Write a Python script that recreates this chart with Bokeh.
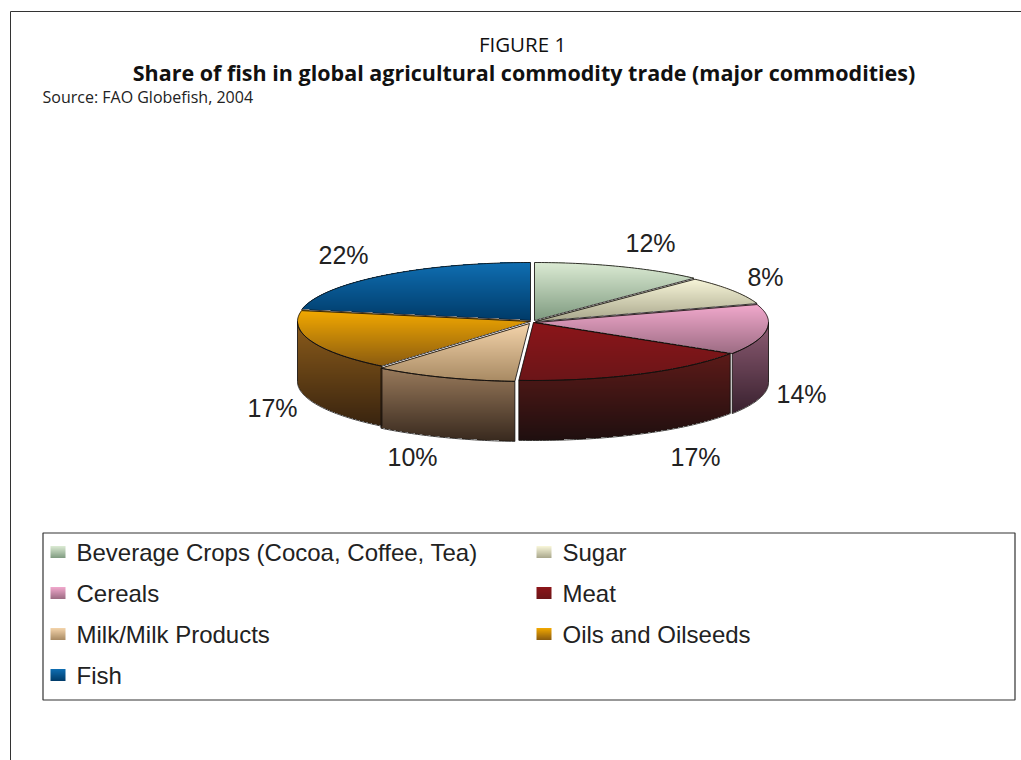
import math
from bokeh.core.properties import value
from bokeh.embed import file_html
from bokeh.models import ColumnDataSource, Range1d
from bokeh.plotting import figure
from bokeh.resources import INLINE

# Commodity shares, in percent, clockwise from twelve o'clock
categories = ["Beverage Crops (Cocoa, Coffee, Tea)", "Sugar", "Cereals", "Meat",
              "Milk/Milk Products", "Oils and Oilseeds", "Fish"]
shares = [12, 8, 14, 17, 10, 17, 22]

title_top = "FIGURE 1"
title_main = "Share of fish in global agricultural commodity trade (major commodities)"
source_note = "Source: FAO Globefish, 2004"

# Pie layout, in page pixels
CX, CY, RX, RY, DEPTH = 532, 321, 233, 58, 60
offsets = [(2, -1), (3, 0), (3, 1), (1, 1), (-3, 2), (-2, 0), (-2, -1)]
label_pos = [(650, 242), (765, 276), (801, 393), (695, 456), (412, 456), (272, 407), (343, 254)]

# Gradient stops per slice (top-face start and end, side-face start and end)
top_colors = [("#dcebd4", "#7f9b80"), ("#f9f7da", "#a9a78c"), ("#f2a9cd", "#9b6b82"),
              ("#8c1519", "#6b1518"), ("#f4d4ab", "#a88a63"), ("#f3a900", "#8a5b10"),
              ("#0f6eb2", "#003b69")]
side_colors = [None, None, ("#8e5d74", "#38202e"), ("#5c1a18", "#1f0f0f"),
               ("#9a7b5c", "#38291e"), ("#8c5c1a", "#38230f"), None]


def rgb(h):
    return tuple(int(h[i:i + 2], 16) for i in (1, 3, 5))


def mix(a, b, t):
    t = max(0.0, min(1.0, t))
    ca, cb = rgb(a), rgb(b)
    return "#%02x%02x%02x" % tuple(round(x + (y - x) * t) for x, y in zip(ca, cb))


strips = dict(left=[], right=[], top=[], bottom=[], color=[])


def fill_gradient(poly, c0, c1):
    """Paint a polygon as one-pixel horizontal bands running from c0 down to c1."""
    ys = [q[1] for q in poly]
    y0, y1 = math.floor(min(ys)), math.ceil(max(ys))
    for y in range(y0, y1):
        yc = y + 0.5
        xs = []
        for (ax, ay), (bx, by) in zip(poly, poly[1:] + poly[:1]):
            if (ay <= yc) != (by <= yc):
                xs.append(ax + (yc - ay) / (by - ay) * (bx - ax))
        xs.sort()
        col = mix(c0, c1, (yc - y0) / max(1, y1 - y0))
        for a, b in zip(xs[::2], xs[1::2]):
            strips["left"].append(a)
            strips["right"].append(b)
            # The SVG canvas sits half a pixel off the grid; the bands are
            # shifted back so that each one fills a whole pixel row.
            strips["top"].append(y - 0.5)
            strips["bottom"].append(y + 0.5)
            strips["color"].append(col)


def arc(a0, a1, ox, oy, dz=0):
    n = max(2, int(abs(a1 - a0) * 1.2))
    out = []
    for i in range(n + 1):
        a = math.radians(a0 + (a1 - a0) * i / n)
        out.append((CX + ox + RX * math.sin(a), CY + oy + dz - RY * math.cos(a)))
    return out


edges_x, edges_y = [], []


def outline(pts):
    edges_x.append([q[0] for q in pts])
    edges_y.append([q[1] for q in pts])


# Slice boundaries from the cumulative shares
total = sum(shares)
bounds = [0]
for s in shares:
    bounds.append(bounds[-1] + s / total * 360)

# Side walls go first, then the top faces over them
for i, side in enumerate(side_colors):
    a0, a1 = max(bounds[i], 90), min(bounds[i + 1], 270)
    if side is None or a1 <= a0:
        continue
    ox, oy = offsets[i]
    upper = arc(a0, a1, ox, oy)
    lower = arc(a0, a1, ox, oy, DEPTH)
    wall = upper + lower[::-1]
    fill_gradient(wall, *side)
    outline(wall + wall[:1])

for i, tc in enumerate(top_colors):
    ox, oy = offsets[i]
    apex = (CX + ox, CY + oy)
    face = [apex] + arc(bounds[i], bounds[i + 1], ox, oy)
    fill_gradient(face, *tc)
    outline(face + face[:1])

# Legend swatches, laid out in two columns
legend_rows = [552, 593, 634, 675]
legend_cols = [(50, 76), (536, 562)]
legend_x, legend_y, legend_text = [], [], []
for i, name in enumerate(categories):
    row, col = i // 2, i % 2
    sx, tx = legend_cols[col]
    yc = legend_rows[row]
    box = [(sx, yc - 6), (sx + 15, yc - 6), (sx + 15, yc + 6), (sx, yc + 6)]
    fill_gradient(box, *top_colors[i])
    legend_x.append(tx)
    legend_y.append(yc)
    legend_text.append(name)

p = figure(width=1021, height=760, output_backend="svg", toolbar_location=None,
           x_range=Range1d(0, 1021), y_range=Range1d(760, 0), min_border=0,
           background_fill_color="white", border_fill_color="white")
p.axis.visible = False
p.grid.visible = False
p.outline_line_color = None

# Outer frame, open at the right and bottom
p.line([10, 10, 1021], [760, 11, 11], line_color="#333333", line_width=1)
# Legend box
p.quad(left=[42.5], right=[1014.5], top=[532.5], bottom=[699.5], fill_color=None,
       line_color="#333333", line_width=1.2)

p.quad(left="left", right="right", top="top", bottom="bottom", fill_color="color",
       fill_alpha=1.0, line_color=None, source=ColumnDataSource(strips))
p.multi_line(edges_x, edges_y, line_color="#14100e", line_width=1, line_alpha=0.85)

p.text(x=[522], y=[43], text=[title_top], text_font=value("Open Sans"), text_font_size="20.5px",
       text_color="#111111", text_align="center", text_baseline="middle")
p.text(x=[523.5], y=[72], text=[title_main], text_font=value("Open Sans"), text_font_size="21.5px",
       text_font_style="bold", text_color="#111111", text_align="center", text_baseline="middle")
p.text(x=[42], y=[96], text=[source_note], text_font=value("Open Sans"), text_font_size="16px",
       text_color="#222222", text_align="left", text_baseline="middle")

p.text(x=[q[0] for q in label_pos], y=[q[1] for q in label_pos], text=[f"{s}%" for s in shares],
       text_font=value("Liberation Sans"), text_font_size="25px", text_color="#222222",
       text_align="center", text_baseline="middle")
p.text(x=legend_x, y=legend_y, text=legend_text, text_font=value("Liberation Sans"),
       text_font_size="24px", text_color="#222222", text_align="left", text_baseline="middle")

open("out.html", "w").write(file_html(p, INLINE))
